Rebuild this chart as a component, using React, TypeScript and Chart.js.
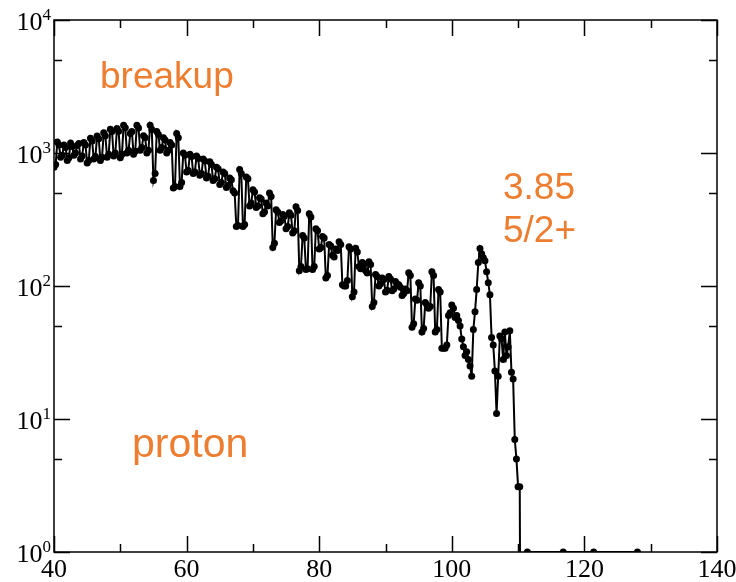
import React, { useEffect, useRef } from "react";
import { Chart, registerables } from "chart.js";

Chart.register(...registerables);

// Energy (x) and counts (y)
const energies = [
  40, 40.25, 40.5, 40.75, 41, 41.25, 41.5, 41.75,
  42, 42.25, 42.5, 42.75, 43, 43.25, 43.5, 43.75,
  44, 44.25, 44.5, 44.75, 45, 45.25, 45.5, 45.75,
  46, 46.25, 46.5, 46.75, 47, 47.25, 47.5, 47.75,
  48, 48.25, 48.5, 48.75, 49, 49.25, 49.5, 49.75,
  50, 50.25, 50.5, 50.75, 51, 51.25, 51.5, 51.75,
  52, 52.25, 52.5, 52.75, 53, 53.25, 53.5, 53.75,
  54, 54.25, 54.5, 54.75, 55, 55.25, 55.5, 55.75,
  56, 56.25, 56.5, 56.75, 57, 57.25, 57.5, 57.75,
  58, 58.25, 58.5, 58.75, 59, 59.25, 59.5, 59.75,
  60, 60.25, 60.5, 60.75, 61, 61.25, 61.5, 61.75,
  62, 62.25, 62.5, 62.75, 63, 63.25, 63.5, 63.75,
  64, 64.25, 64.5, 64.75, 65, 65.25, 65.5, 65.75,
  66, 66.25, 66.5, 66.75, 67, 67.25, 67.5, 67.75,
  68, 68.25, 68.5, 68.75, 69, 69.25, 69.5, 69.75,
  70, 70.25, 70.5, 70.75, 71, 71.25, 71.5, 71.75,
  72, 72.25, 72.5, 72.75, 73, 73.25, 73.5, 73.75,
  74, 74.25, 74.5, 74.75, 75, 75.25, 75.5, 75.75,
  76, 76.25, 76.5, 76.75, 77, 77.25, 77.5, 77.75,
  78, 78.25, 78.5, 78.75, 79, 79.25, 79.5, 79.75,
  80, 80.25, 80.5, 80.75, 81, 81.25, 81.5, 81.75,
  82, 82.25, 82.5, 82.75, 83, 83.25, 83.5, 83.75,
  84, 84.25, 84.5, 84.75, 85, 85.25, 85.5, 85.75,
  86, 86.25, 86.5, 86.75, 87, 87.25, 87.5, 87.75,
  88, 88.25, 88.5, 88.75, 89, 89.25, 89.5, 89.75,
  90, 90.25, 90.5, 90.75, 91, 91.25, 91.5, 91.75,
  92, 92.25, 92.5, 92.75, 93, 93.25, 93.5, 93.75,
  94, 94.25, 94.5, 94.75, 95, 95.25, 95.5, 95.75,
  96, 96.25, 96.5, 96.75, 97, 97.25, 97.5, 97.75,
  98, 98.25, 98.5, 98.75, 99, 99.25, 99.5, 99.75,
  100, 100.25, 100.5, 100.75, 101, 101.25, 101.5, 101.75,
  102, 102.25, 102.5, 102.75, 103, 103.25, 103.5, 103.75,
  104, 104.25, 104.5, 104.75, 105, 105.25, 105.5, 105.75,
  106, 106.25, 106.5, 106.75, 107, 107.25, 107.5, 107.75,
  108, 108.25, 108.5, 108.75, 109, 109.25, 109.5, 109.75,
  110, 110.25, 110.3, 111.4, 116.8, 121.4, 128,
];

const counts = [
  780, 820, 1210, 1150, 930, 960, 1150, 1100,
  880, 920, 1190, 1120, 960, 1000, 1140, 1180,
  900, 950, 1200, 1150, 840, 880, 1290, 1230,
  900, 940, 1340, 1280, 880, 930, 1420, 1350,
  930, 980, 1510, 1450, 950, 1000, 1530, 1460,
  920, 980, 1620, 1550, 1000, 1050, 1400, 1450,
  980, 1030, 1620, 1540, 1050, 1100, 1350, 1300,
  1000, 1050, 1620, 1500, 620, 700, 1450, 1380,
  1050, 1100, 1300, 1250, 1000, 1050, 1200, 1150,
  545, 560, 1400, 1300, 560, 600, 1000, 960,
  720, 740, 980, 940, 700, 720, 950, 910,
  680, 700, 900, 870, 650, 670, 860, 820,
  620, 640, 780, 760, 580, 600, 720, 700,
  550, 570, 650, 630, 520, 500, 280, 285,
  750, 700, 280, 290, 660, 640, 400, 420,
  530, 510, 390, 400, 460, 450, 350, 360,
  420, 400, 500, 470, 195, 210, 375, 360,
  300, 310, 345, 335, 270, 280, 355, 340,
  250, 260, 395, 370, 130, 140, 240, 230,
  133, 135, 350, 330, 133, 140, 270, 260,
  190, 195, 236, 230, 115, 120, 205, 200,
  170, 165, 190, 185, 215, 205, 102, 100,
  100, 110, 197, 190, 83, 90, 192, 180,
  140, 135, 150, 145, 130, 125, 152, 145,
  70, 75, 122, 118, 100, 104, 115, 112,
  90, 93, 118, 113, 92, 95, 108, 104,
  102, 98, 85, 88, 95, 92, 126, 120,
  49, 52, 80, 78, 106, 100, 45, 48,
  75, 72, 68, 70, 128, 120, 45, 47,
  94, 90, 34, 34, 34, 36, 60, 63,
  72, 68, 58, 60, 55, 50, 40, 35,
  30, 32, 28, 25, 21, 47, 64, 94,
  150, 191, 175, 163, 155, 128, 106, 86,
  41, 36, 23, 11, 21, 42, 40, 28,
  45, 30, 35, 46, 22.5, 20, 7, 5,
  3.1, 3.1, 0.6, 1, 1, 1, 1,
];

const xMajorTicks = [40, 60, 80, 100, 120, 140];
const xMinorTicks = [50, 70, 90, 110, 130];
const yDecades = [1, 10, 100, 1000, 10000];
const yExponents = ["0", "1", "2", "3", "4"];
const yMinorTicks = [5, 50, 500, 5000];

const noteLines = ["breakup", "proton", "3.85", "5/2+"];

const ORANGE = "#ED7D31";
const SERIF = '"Liberation Serif", "Times New Roman", serif';
const SANS = '"Liberation Sans", Arial, sans-serif';

const axesPlugin = {
  id: "graceAxes",
  afterDraw(chart: any) {
    const { ctx, chartArea, scales } = chart;
    const xs = scales.x;
    const ys = scales.y;
    const { left, right, top, bottom } = chartArea;
    ctx.save();
    ctx.strokeStyle = "#000";
    ctx.lineWidth = 1.5;
    ctx.strokeRect(left, top, right - left, bottom - top);

    const major = 16;
    const minor = 8;
    ctx.beginPath();
    xMajorTicks.forEach((v) => {
      const px = Math.round(xs.getPixelForValue(v)) + 0.5;
      ctx.moveTo(px, bottom);
      ctx.lineTo(px, bottom - major);
      ctx.moveTo(px, top);
      ctx.lineTo(px, top + major);
    });
    xMinorTicks.forEach((v) => {
      const px = Math.round(xs.getPixelForValue(v)) + 0.5;
      ctx.moveTo(px, bottom);
      ctx.lineTo(px, bottom - minor);
      ctx.moveTo(px, top);
      ctx.lineTo(px, top + minor);
    });
    yDecades.forEach((v) => {
      const py = Math.round(ys.getPixelForValue(v)) + 0.5;
      ctx.moveTo(left, py);
      ctx.lineTo(left + major, py);
      ctx.moveTo(right, py);
      ctx.lineTo(right - major, py);
    });
    yMinorTicks.forEach((v) => {
      const py = Math.round(ys.getPixelForValue(v)) + 0.5;
      ctx.moveTo(left, py);
      ctx.lineTo(left + minor, py);
      ctx.moveTo(right, py);
      ctx.lineTo(right - minor, py);
    });
    ctx.stroke();

    // x tick labels
    ctx.fillStyle = "#000";
    ctx.font = `26px ${SERIF}`;
    ctx.textAlign = "center";
    ctx.textBaseline = "alphabetic";
    xMajorTicks.forEach((v) => {
      const px = xs.getPixelForValue(v);
      ctx.fillText(String(v), px, bottom + 25);
    });

    // y tick labels: 10^n
    yDecades.forEach((v, i) => {
      const py = ys.getPixelForValue(v);
      ctx.font = `17px ${SERIF}`;
      const ew = ctx.measureText(yExponents[i]).width;
      ctx.font = `26px ${SERIF}`;
      const bw = ctx.measureText("10").width;
      const endX = left - 3;
      ctx.textAlign = "left";
      ctx.fillText("10", endX - ew - bw, py + 10);
      ctx.font = `17px ${SERIF}`;
      ctx.fillText(yExponents[i], endX - ew, py);
    });

    // annotations
    ctx.fillStyle = ORANGE;
    ctx.textAlign = "left";
    ctx.font = `37px ${SANS}`;
    ctx.fillText(noteLines[0], 100, 88);
    ctx.font = `41px ${SANS}`;
    ctx.fillText(noteLines[1], 132, 457);
    ctx.font = `37px ${SANS}`;
    ctx.fillText(noteLines[2], 503, 199);
    ctx.fillText(noteLines[3], 503, 242);
    ctx.restore();
  },
};

export default function App() {
  const ref = useRef<HTMLCanvasElement | null>(null);
  useEffect(() => {
    if (!ref.current) return;
    const data = energies.map((e, i) => ({ x: e, y: counts[i] }));
    const chart = new Chart(ref.current, {
      type: "line",
      data: {
        datasets: [
          {
            data,
            borderColor: "#000",
            borderWidth: 2,
            pointRadius: 3.5,
            pointBorderWidth: 0,
            pointBackgroundColor: "#000",
            pointBorderColor: "#000",
            tension: 0,
          },
        ],
      },
      options: {
        responsive: false,
        animation: false,
        layout: { padding: { left: 54, right: 19, top: 20, bottom: 30 } },
        plugins: { legend: { display: false }, tooltip: { enabled: false } },
        scales: {
          x: { type: "linear", min: 40, max: 140, display: false },
          y: { type: "logarithmic", min: 1, max: 10000, display: false },
        },
      },
      plugins: [axesPlugin],
    });
    return () => chart.destroy();
  }, []);
  return (
    <div style={{ position: "absolute", left: 0, top: 0, width: 736, height: 582, background: "#fff" }}>
      <canvas ref={ref} width={736} height={582} style={{ display: "block" }} />
    </div>
  );
}
